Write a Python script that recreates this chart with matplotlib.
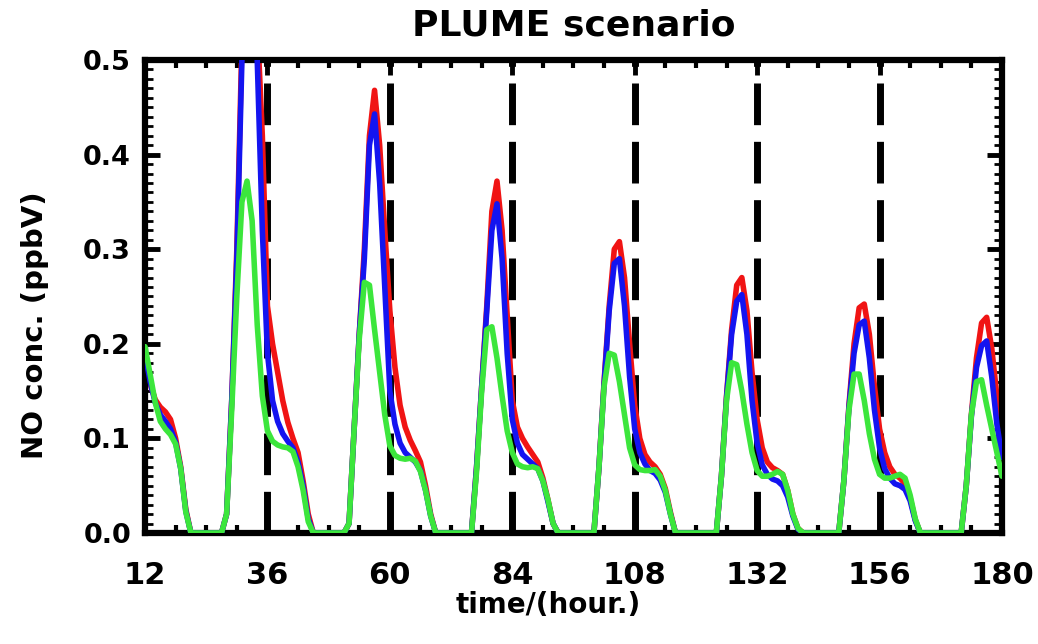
import matplotlib
matplotlib.use("Agg")
import matplotlib.pyplot as plt
import numpy as np
from matplotlib.ticker import MultipleLocator

# hourly model output, t = 12 ... 180 h
hours = np.arange(12, 181)

no_red = [
    0.190, 0.158, 0.141, 0.133, 0.128, 0.120, 0.100, 0.070, 0.025, 0.0, 0.0, 0.0, 0.0, 0.0, 0.0, 0.0,
    0.020, 0.140, 0.300, 0.520, 0.600, 0.610, 0.540, 0.420, 0.240, 0.200, 0.170, 0.140, 0.117, 0.100, 0.085, 0.055,
    0.020, 0.0, 0.0, 0.0, 0.0, 0.0, 0.0, 0.0,
    0.010, 0.110, 0.210, 0.300, 0.420, 0.468, 0.410, 0.320, 0.235, 0.175, 0.135, 0.112, 0.098, 0.087, 0.075, 0.050,
    0.020, 0.0, 0.0, 0.0, 0.0, 0.0, 0.0, 0.0,
    0.0, 0.070, 0.155, 0.240, 0.340, 0.372, 0.320, 0.230, 0.140, 0.112, 0.100, 0.091, 0.083, 0.075, 0.058, 0.035,
    0.010, 0.0, 0.0, 0.0, 0.0, 0.0, 0.0, 0.0,
    0.0, 0.070, 0.160, 0.240, 0.300, 0.308, 0.270, 0.200, 0.135, 0.100, 0.083, 0.075, 0.070, 0.062, 0.047, 0.022,
    0.0, 0.0, 0.0, 0.0, 0.0, 0.0, 0.0, 0.0,
    0.0, 0.060, 0.145, 0.215, 0.262, 0.270, 0.235, 0.170, 0.120, 0.090, 0.075, 0.069, 0.066, 0.062, 0.045, 0.020,
    0.005, 0.0, 0.0, 0.0, 0.0, 0.0, 0.0, 0.0,
    0.0, 0.055, 0.135, 0.200, 0.238, 0.242, 0.210, 0.155, 0.110, 0.085, 0.070, 0.062, 0.058, 0.052, 0.037, 0.014,
    0.0, 0.0, 0.0, 0.0, 0.0, 0.0, 0.0, 0.0,
    0.0, 0.050, 0.125, 0.185, 0.222, 0.228, 0.195, 0.145, 0.100,
]

no_blue = [
    0.190, 0.160, 0.138, 0.125, 0.118, 0.110, 0.096, 0.068, 0.023, 0.0, 0.0, 0.0, 0.0, 0.0, 0.0, 0.0,
    0.020, 0.140, 0.290, 0.500, 0.560, 0.570, 0.500, 0.320, 0.190, 0.140, 0.118, 0.105, 0.097, 0.090, 0.075, 0.050,
    0.015, 0.0, 0.0, 0.0, 0.0, 0.0, 0.0, 0.0,
    0.010, 0.110, 0.210, 0.290, 0.410, 0.443, 0.370, 0.260, 0.150, 0.115, 0.095, 0.085, 0.080, 0.075, 0.066, 0.045,
    0.018, 0.0, 0.0, 0.0, 0.0, 0.0, 0.0, 0.0,
    0.0, 0.070, 0.155, 0.235, 0.320, 0.348, 0.290, 0.190, 0.120, 0.095, 0.083, 0.078, 0.073, 0.068, 0.055, 0.033,
    0.010, 0.0, 0.0, 0.0, 0.0, 0.0, 0.0, 0.0,
    0.0, 0.070, 0.158, 0.235, 0.285, 0.290, 0.240, 0.165, 0.110, 0.085, 0.073, 0.066, 0.063, 0.056, 0.043, 0.020,
    0.0, 0.0, 0.0, 0.0, 0.0, 0.0, 0.0, 0.0,
    0.0, 0.060, 0.143, 0.210, 0.245, 0.252, 0.210, 0.140, 0.095, 0.072, 0.062, 0.057, 0.055, 0.050, 0.038, 0.018,
    0.004, 0.0, 0.0, 0.0, 0.0, 0.0, 0.0, 0.0,
    0.0, 0.055, 0.133, 0.190, 0.220, 0.224, 0.185, 0.130, 0.090, 0.068, 0.058, 0.052, 0.050, 0.046, 0.034, 0.013,
    0.0, 0.0, 0.0, 0.0, 0.0, 0.0, 0.0, 0.0,
    0.0, 0.050, 0.123, 0.175, 0.198, 0.203, 0.165, 0.115, 0.080,
]

no_green = [
    0.197, 0.168, 0.138, 0.118, 0.110, 0.104, 0.094, 0.068, 0.022, 0.0, 0.0, 0.0, 0.0, 0.0, 0.0, 0.0,
    0.020, 0.130, 0.250, 0.350, 0.372, 0.330, 0.220, 0.145, 0.108, 0.097, 0.093, 0.091, 0.090, 0.086, 0.070, 0.045,
    0.012, 0.0, 0.0, 0.0, 0.0, 0.0, 0.0, 0.0,
    0.010, 0.110, 0.205, 0.265, 0.262, 0.215, 0.170, 0.125, 0.092, 0.082, 0.079, 0.078, 0.079, 0.076, 0.065, 0.045,
    0.018, 0.0, 0.0, 0.0, 0.0, 0.0, 0.0, 0.0,
    0.0, 0.065, 0.150, 0.215, 0.218, 0.185, 0.145, 0.108, 0.085, 0.073, 0.070, 0.069, 0.070, 0.068, 0.055, 0.035,
    0.010, 0.0, 0.0, 0.0, 0.0, 0.0, 0.0, 0.0,
    0.0, 0.070, 0.155, 0.190, 0.188, 0.160, 0.125, 0.090, 0.072, 0.067, 0.066, 0.066, 0.067, 0.060, 0.045, 0.020,
    0.0, 0.0, 0.0, 0.0, 0.0, 0.0, 0.0, 0.0,
    0.0, 0.060, 0.140, 0.180, 0.178, 0.150, 0.115, 0.085, 0.066, 0.060, 0.060, 0.062, 0.065, 0.062, 0.045, 0.020,
    0.005, 0.0, 0.0, 0.0, 0.0, 0.0, 0.0, 0.0,
    0.0, 0.055, 0.130, 0.168, 0.168, 0.140, 0.105, 0.078, 0.062, 0.058, 0.058, 0.060, 0.062, 0.058, 0.040, 0.015,
    0.0, 0.0, 0.0, 0.0, 0.0, 0.0, 0.0, 0.0,
    0.0, 0.050, 0.125, 0.160, 0.162, 0.135, 0.110, 0.085, 0.060,
]

midnights = [36, 60, 84, 108, 132, 156]
xticks = [12, 36, 60, 84, 108, 132, 156, 180]
yticks = [0.0, 0.1, 0.2, 0.3, 0.4, 0.5]
ytick_labels = ['0.0', '0.1', '0.2', '0.3', '0.4', '0.5']

plt.rcParams['font.family'] = 'DejaVu Sans'
plt.rcParams['font.weight'] = 'bold'

fig = plt.figure(figsize=(10.38, 6.44), dpi=100)
ax = fig.add_axes([0.1397, 0.1724, 0.8256, 0.7344])

# dashed markers for each midnight
for m in midnights:
    ax.axvline(m, color='black', lw=5, dashes=(6.0, 2.4), zorder=1)

line_kw = dict(lw=4, solid_joinstyle='round', solid_capstyle='round')
ax.plot(hours, no_red, color='#f01414', zorder=2, **line_kw)
ax.plot(hours, no_blue, color='#1414f0', zorder=3, **line_kw)
ax.plot(hours, no_green, color='#3ce63c', zorder=4, **line_kw)

ax.set_xlim(12, 180)
ax.set_ylim(0, 0.5)
ax.set_xticks(xticks)
ax.set_yticks(yticks)
ax.set_yticklabels(ytick_labels)
ax.xaxis.set_minor_locator(MultipleLocator(6))
ax.yaxis.set_minor_locator(MultipleLocator(0.01))

ax.tick_params(which='both', direction='in', top=True, right=True, color='black')
ax.tick_params(which='major', length=11, width=3.5)
ax.tick_params(which='minor', length=6, width=2)
ax.tick_params(axis='x', which='minor', width=3)
ax.tick_params(axis='x', which='major', labelsize=22, pad=20)
ax.tick_params(axis='y', which='major', labelsize=19.5, pad=10)
for s in ax.spines.values():
    s.set_linewidth(4.5)

ax.set_xlabel('time/(hour.)', fontsize=20, fontweight='bold', va='center')
ax.xaxis.set_label_coords(0.471, -0.152)
ax.set_ylabel('NO conc. (ppbV)', fontsize=21, fontweight='bold', va='center')
ax.yaxis.set_label_coords(-0.128, 0.44)
fig.text(574 / 1038, 1 - 26 / 644, 'PLUME scenario', fontsize=26, fontweight='bold',
         ha='center', va='center')

fig.savefig('out.png', dpi=100)
